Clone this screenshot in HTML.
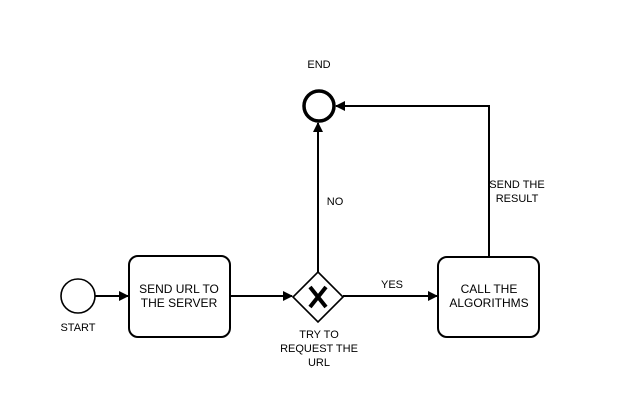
<!DOCTYPE html>
<html><head><style>body{margin:0;background:#fff}svg{display:block}</style></head><body>
<svg width="630" height="401" xmlns="http://www.w3.org/2000/svg" font-family="Liberation Sans, Arial, sans-serif" font-size="12" fill="#000">
<defs><marker id="a" markerWidth="10" markerHeight="10" refX="9" refY="5" orient="auto" markerUnits="userSpaceOnUse"><path d="M0,0 L10,5 L0,10 z" fill="#000"/></marker></defs>
<g stroke="#000" stroke-width="2" fill="none">
<circle cx="78" cy="296" r="17" stroke-width="1.6"/>
<rect x="129" y="256" width="101" height="81" rx="9"/>
<rect x="438" y="257" width="101" height="80" rx="9"/>
<path d="M318,272 L343,297 L318,322 L293,297 Z" stroke-width="1.6"/>
<circle cx="319" cy="106" r="15" stroke-width="3.5"/>
<line x1="95" y1="296" x2="128" y2="296" marker-end="url(#a)"/>
<line x1="230" y1="296" x2="292" y2="296" marker-end="url(#a)"/>
<line x1="343" y1="296" x2="437" y2="296" marker-end="url(#a)"/>
<line x1="318" y1="272" x2="318" y2="123" marker-end="url(#a)"/>
<polyline points="489,257 489,106 336,106" marker-end="url(#a)"/>
</g>
<path d="M310,287 L326,307 M326,287 L310,307" stroke="#000" stroke-width="4"/>
<g text-anchor="middle">
<text x="179" y="293">SEND URL TO</text><text x="179" y="307">THE SERVER</text>
<text x="489" y="293">CALL THE</text><text x="489" y="307">ALGORITHMS</text>
<text x="78" y="331" font-size="11">START</text>
<text x="319" y="68" font-size="11">END</text>
<text x="319" y="338" font-size="11">TRY TO</text><text x="319" y="352" font-size="11">REQUEST THE</text><text x="319" y="366" font-size="11">URL</text>
<text x="392" y="288" font-size="11">YES</text>
<text x="335" y="205" font-size="11">NO</text>
<text x="517" y="188" font-size="11">SEND THE</text><text x="517" y="202" font-size="11">RESULT</text>
</g>
</svg>
</body></html>
